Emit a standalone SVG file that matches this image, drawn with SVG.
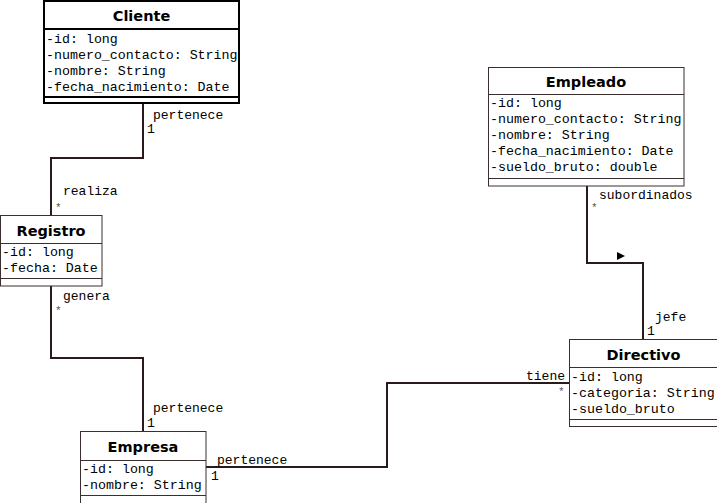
<svg xmlns="http://www.w3.org/2000/svg" width="717" height="503" viewBox="0 0 717 503">
<style>
.box{fill:#ffffff;stroke:#3a2e2e;stroke-width:1}
.sel{fill:#ffffff;stroke:#000000;stroke-width:2}
.sep{stroke:#3a2e2e;stroke-width:1}
.sep2{stroke:#000000;stroke-width:2}
.title{font-family:"DejaVu Sans",Verdana,sans-serif;font-weight:bold;font-size:14.5px;fill:#000;text-anchor:middle}
.attr{font-family:"Liberation Mono","Courier New",monospace;font-size:13.3px;fill:#000}
.lbl{font-family:"Liberation Mono","Courier New",monospace;font-size:13px;fill:#000}
.star{font-family:"Liberation Mono","Courier New",monospace;font-size:11px;fill:#555}
.conn{fill:none;stroke:#2a1a1a;stroke-width:2}
</style>
<rect width="717" height="503" fill="#ffffff"/>
<g id="connectors">
<path class="conn" d="M143,104 V158 H51 V215"/>
<path class="conn" d="M51,286 V358 H143 V431"/>
<path class="conn" d="M206,467 H387 V383 H569"/>
<path class="conn" d="M587,186 V263 H643 V339"/>
<polygon points="617,252 625,256 617,260" fill="#000"/>
<text class="lbl" x="153" y="119">pertenece</text>
<text class="lbl" x="147" y="133">1</text>
<text class="lbl" x="63" y="195">realiza</text>
<text class="star" x="55" y="211">*</text>
<text class="lbl" x="63" y="300">genera</text>
<text class="star" x="55" y="314">*</text>
<text class="lbl" x="153" y="412">pertenece</text>
<text class="lbl" x="147" y="427">1</text>
<text class="lbl" x="217" y="464">pertenece</text>
<text class="lbl" x="211" y="480">1</text>
<text class="lbl" x="565" y="380" text-anchor="end">tiene</text>
<text class="star" x="558" y="395">*</text>
<text class="lbl" x="599" y="199">subordinados</text>
<text class="star" x="591" y="211">*</text>
<text class="lbl" x="655" y="321">jefe</text>
<text class="lbl" x="647" y="335">1</text>
</g>
<g id="Cliente">
<rect class="sel" x="44" y="1" width="195" height="102"/>
<line class="sep2" x1="44" y1="29" x2="239" y2="29"/>
<line class="sep2" x1="44" y1="97" x2="239" y2="97"/>
<text class="title" x="141.5" y="21">Cliente</text>
<text class="attr" x="46" y="43">-id: long</text>
<text class="attr" x="46" y="59">-numero_contacto: String</text>
<text class="attr" x="46" y="75">-nombre: String</text>
<text class="attr" x="46" y="91">-fecha_nacimiento: Date</text>
</g>
<g id="Empleado">
<rect class="box" x="488.5" y="67.5" width="195.5" height="118.5"/>
<line class="sep" x1="488.5" y1="94.5" x2="684" y2="94.5"/>
<line class="sep" x1="488.5" y1="178.5" x2="684" y2="178.5"/>
<text class="title" x="586" y="87">Empleado</text>
<text class="attr" x="490" y="107">-id: long</text>
<text class="attr" x="490" y="123">-numero_contacto: String</text>
<text class="attr" x="490" y="139">-nombre: String</text>
<text class="attr" x="490" y="155">-fecha_nacimiento: Date</text>
<text class="attr" x="490" y="171">-sueldo_bruto: double</text>
</g>
<g id="Registro">
<rect class="box" x="0.5" y="215.5" width="101.5" height="70.5"/>
<line class="sep" x1="0.5" y1="243.5" x2="102" y2="243.5"/>
<line class="sep" x1="0.5" y1="278.5" x2="102" y2="278.5"/>
<text class="title" x="51" y="236">Registro</text>
<text class="attr" x="2" y="256">-id: long</text>
<text class="attr" x="2" y="272">-fecha: Date</text>
</g>
<g id="Empresa">
<rect class="box" x="80.5" y="431.5" width="125.5" height="80"/>
<line class="sep" x1="80.5" y1="460.5" x2="206" y2="460.5"/>
<line class="sep" x1="80.5" y1="495.5" x2="206" y2="495.5"/>
<text class="title" x="143" y="452">Empresa</text>
<text class="attr" x="82" y="473">-id: long</text>
<text class="attr" x="82" y="489">-nombre: String</text>
</g>
<g id="Directivo">
<rect class="box" x="569.5" y="339.5" width="150" height="87"/>
<line class="sep" x1="569.5" y1="367.5" x2="719" y2="367.5"/>
<line class="sep" x1="569.5" y1="419.5" x2="719" y2="419.5"/>
<text class="title" x="643.5" y="360">Directivo</text>
<text class="attr" x="571" y="381">-id: long</text>
<text class="attr" x="571" y="397">-categoria: String</text>
<text class="attr" x="571" y="413">-sueldo_bruto</text>
</g>
</svg>
